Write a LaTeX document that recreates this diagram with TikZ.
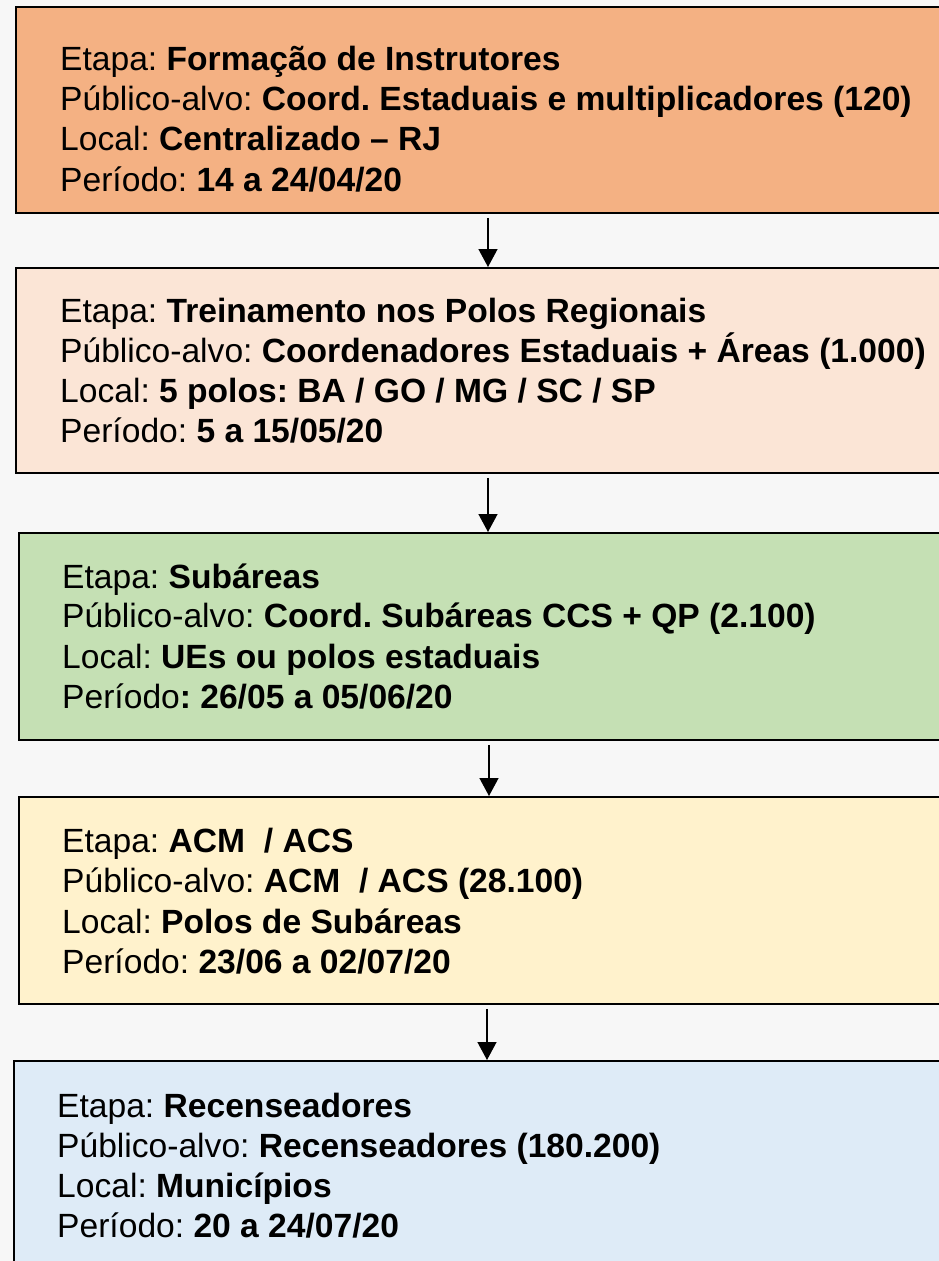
\documentclass[tikz,border=0pt]{standalone}
\usepackage{fontspec}
\setmainfont{Liberation Sans}
\usetikzlibrary{arrows.meta}
\frenchspacing
\definecolor{bgc}{HTML}{F7F7F7}
\definecolor{c1}{HTML}{F4B183}
\definecolor{c2}{HTML}{FBE5D6}
\definecolor{c3}{HTML}{C5E0B4}
\definecolor{c4}{HTML}{FFF2CC}
\definecolor{c5}{HTML}{DEEBF7}
\tikzset{
  stagebox/.style={draw=black, line width=1.8pt, rectangle, anchor=north west, inner sep=0pt, minimum width=#1},
  txt/.style={anchor=base west, inner sep=0pt, font=\fontsize{33.6}{38}\selectfont\frenchspacing, text=black},
  arr/.style={line width=1.4pt, -{Triangle[width=19pt,length=18pt]}, shorten <=4pt},
}
\begin{document}
\begin{tikzpicture}[x=1pt,y=-1pt]
\useasboundingbox (0,0) rectangle (939,1261);
\clip (0,0) rectangle (939,1261);
\fill[bgc] (0,0) rectangle (939,1261);
% boxes
\node[stagebox=960pt, fill=c1, minimum height=206pt] (b1) at (15,6) {};
\node[stagebox=960pt, fill=c2, minimum height=205pt] (b2) at (15,267) {};
\node[stagebox=960pt, fill=c3, minimum height=207pt] (b3) at (18,532) {};
\node[stagebox=960pt, fill=c4, minimum height=207pt] (b4) at (18,796) {};
\node[stagebox=960pt, fill=c5, minimum height=240pt] (b5) at (13,1060) {};
% texts box 1
\node[txt] (t11) at (60,70) {Etapa: \textbf{Formação de Instrutores}};
\node[txt] (t12) at (60,110) {Público-alvo: \textbf{Coord. Estaduais e multiplicadores (120)}};
\node[txt] (t13) at (60,150) {Local: \textbf{Centralizado – RJ}};
\node[txt] (t14) at (60,191) {Período: \textbf{14 a 24/04/20}};
% texts box 2
\node[txt] (t21) at (60,322) {Etapa: \textbf{Treinamento nos Polos Regionais}};
\node[txt] (t22) at (60,362) {Público-alvo: \textbf{Coordenadores Estaduais + Áreas (1.000)}};
\node[txt] (t23) at (60,402) {Local: \textbf{5 polos: BA / GO / MG / SC / SP}};
\node[txt] (t24) at (60,442) {Período: \textbf{5 a 15/05/20}};
% texts box 3
\node[txt] (t31) at (62,588) {Etapa: \textbf{Subáreas}};
\node[txt] (t32) at (62,627) {Público-alvo: \textbf{Coord. Subáreas CCS + QP (2.100)}};
\node[txt] (t33) at (62,668) {Local: \textbf{UEs ou polos estaduais}};
\node[txt] (t34) at (62,708) {Período\textbf{: 26/05 a 05/06/20}};
% texts box 4
\node[txt] (t41) at (62,852) {Etapa: \textbf{ACM~ / ACS}};
\node[txt] (t42) at (62,892) {Público-alvo: \textbf{ACM~ / ACS (28.100)}};
\node[txt] (t43) at (62,933) {Local: \textbf{Polos de Subáreas}};
\node[txt] (t44) at (62,973) {Período: \textbf{23/06 a 02/07/20}};
% texts box 5
\node[txt] (t51) at (57,1117) {Etapa: \textbf{Recenseadores}};
\node[txt] (t52) at (57,1157) {Público-alvo: \textbf{Recenseadores (180.200)}};
\node[txt] (t53) at (57,1197) {Local: \textbf{Municípios}};
\node[txt] (t54) at (57,1237) {Período: \textbf{20 a 24/07/20}};
% arrows
\coordinate (ax1) at (488,0);
\coordinate (ax2) at (488,0);
\coordinate (ax3) at (489,0);
\coordinate (ax4) at (487,0);
\draw[arr] (ax1 |- b1.south) -- (ax1 |- b2.north);
\draw[arr] (ax2 |- b2.south) -- (ax2 |- b3.north);
\draw[arr] (ax3 |- b3.south) -- (ax3 |- b4.north);
\draw[arr] (ax4 |- b4.south) -- (ax4 |- b5.north);
\end{tikzpicture}
\end{document}
